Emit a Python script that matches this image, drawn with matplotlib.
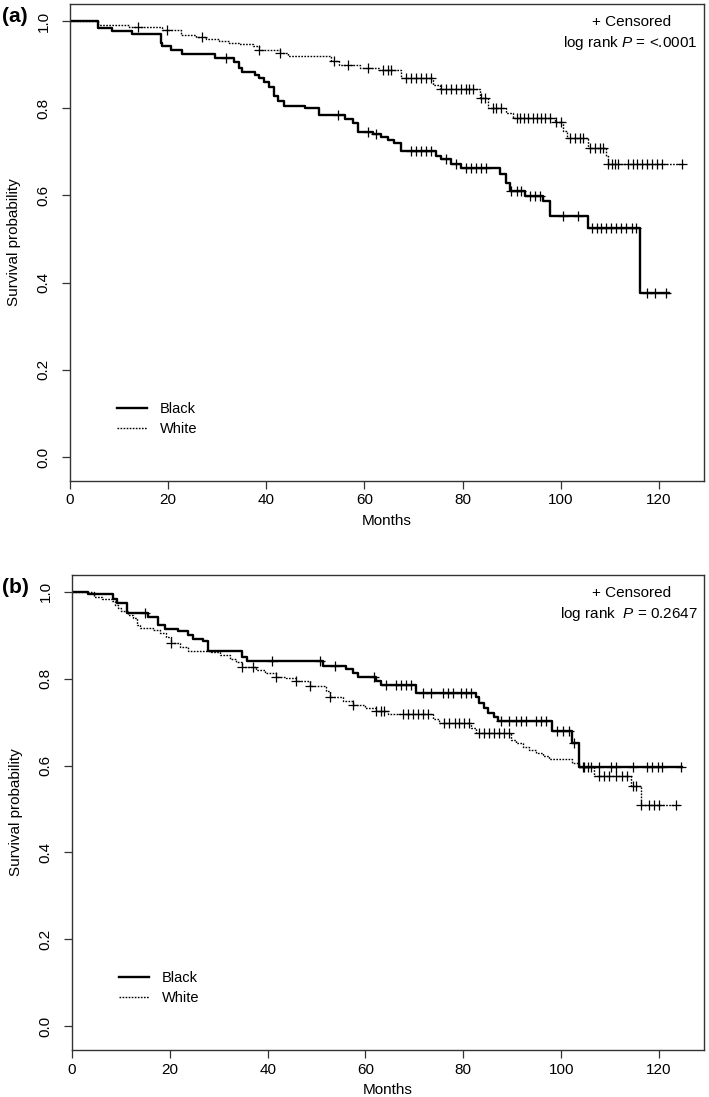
import numpy as np
import matplotlib
matplotlib.use("Agg")
import matplotlib.pyplot as plt

plt.rcParams['font.family'] = ['Liberation Sans', 'DejaVu Sans']
plt.rcParams['mathtext.fontset'] = 'custom'
plt.rcParams['mathtext.it'] = 'Liberation Sans:italic'
plt.rcParams['mathtext.rm'] = 'Liberation Sans'

# ---- panel (a) ----
a_black_t = [5.8, 8.6, 12.7, 18.5, 18.8, 20.5, 22.9, 29.6, 33.5, 34.5, 35.0, 37.6, 38.6,
             39.6, 40.6, 41.6, 42.3, 43.7, 47.8, 50.7, 56.1, 57.6, 58.6, 61.7, 63.4, 64.8,
             66.1, 67.5, 74.6, 75.6, 77.7, 79.7, 87.6, 88.9, 89.6, 92.7, 96.4, 97.8, 105.6, 116.1]
a_black_s = [0.985, 0.976, 0.971, 0.950, 0.943, 0.933, 0.925, 0.916, 0.907, 0.893, 0.883, 0.876, 0.869,
             0.861, 0.849, 0.828, 0.817, 0.805, 0.800, 0.784, 0.775, 0.767, 0.745, 0.740, 0.733, 0.727,
             0.720, 0.702, 0.690, 0.683, 0.671, 0.664, 0.648, 0.629, 0.610, 0.599, 0.587, 0.553, 0.526, 0.377]
a_black_cens = [31.8, 54.6, 60.7, 62.4, 69.5, 70.5, 71.6, 72.6, 73.6, 76.7, 78.7, 80.8, 81.8, 82.8,
                83.8, 84.8, 89.9, 91.0, 92.0, 93.7, 94.7, 95.7, 100.5, 103.5, 106.3, 107.3, 108.3,
                109.3, 110.3, 111.3, 112.3, 113.3, 114.6, 115.3, 117.6, 119.2, 121.4]
a_black_end = 122.1

a_white_t = [5.8, 12.0, 18.8, 22.6, 25.6, 27.7, 30.4, 32.4, 34.5, 37.2, 38.6, 42.7, 44.5, 53.2,
             54.9, 59.0, 63.0, 67.5, 74.0, 75.3, 83.5, 85.2, 88.9, 90.3, 98.8, 100.5, 101.2,
             105.6, 109.3, 109.7]
a_white_s = [0.991, 0.986, 0.979, 0.969, 0.963, 0.958, 0.954, 0.950, 0.947, 0.943, 0.933, 0.926, 0.920, 0.908,
             0.900, 0.893, 0.887, 0.869, 0.853, 0.843, 0.824, 0.801, 0.790, 0.778, 0.769, 0.748, 0.732,
             0.709, 0.690, 0.671]
a_white_cens = [13.9, 19.7, 26.8, 38.6, 42.7, 53.7, 56.6, 60.7, 63.8, 64.8, 65.5, 68.5, 69.5, 70.5,
                71.6, 72.6, 73.6, 75.6, 76.7, 77.7, 78.7, 79.7, 80.8, 81.4, 82.1, 83.8, 84.5, 86.2,
                86.9, 87.9, 91.0, 91.8, 92.6, 93.4, 94.3, 95.1, 95.9, 96.7, 97.8, 99.1, 100.1, 101.8,
                102.9, 103.9, 104.6, 105.9, 106.9, 108.0, 108.6, 109.7, 110.4, 111.0, 111.7, 113.7,
                114.8, 115.5, 116.5, 117.5, 118.6, 119.6, 120.6, 124.7]
a_white_end = 125.0

# ---- panel (b) ----
b_black_t = [3.3, 8.4, 9.1, 11.2, 15.5, 17.6, 19.0, 21.7, 23.7, 24.8, 26.8, 27.8, 34.8, 35.7,
             51.3, 56.1, 57.4, 58.4, 62.2, 63.2, 70.3, 82.6, 83.3, 84.3, 85.0, 86.3, 87.0, 98.2,
             102.3, 103.7]
b_black_s = [0.995, 0.983, 0.975, 0.951, 0.943, 0.924, 0.915, 0.909, 0.901, 0.892, 0.886, 0.865, 0.851, 0.841,
             0.830, 0.823, 0.813, 0.804, 0.795, 0.786, 0.767, 0.759, 0.744, 0.733, 0.721, 0.713, 0.702, 0.679,
             0.651, 0.597]
b_black_cens = [15.0, 40.8, 50.6, 53.7, 61.8, 64.2, 66.3, 67.3, 68.3, 69.3, 71.7, 73.4, 75.8, 76.8,
                77.8, 79.5, 80.5, 81.6, 87.7, 89.4, 90.7, 91.8, 92.8, 94.8, 95.9, 96.9, 99.2, 100.3,
                101.6, 102.6, 104.7, 106.1, 107.8, 110.1, 111.2, 114.6, 117.6, 118.6, 119.7, 120.7, 124.4]
b_black_end = 124.8

b_white_t = [4.4, 6.1, 8.1, 8.8, 9.5, 10.1, 11.5, 12.5, 13.2, 13.9, 16.6, 18.0, 19.3, 20.2, 22.0,
             23.7, 28.5, 30.2, 32.2, 33.6, 34.8, 37.7, 39.4, 41.8, 43.8, 45.8, 48.6, 52.0, 52.7,
             55.4, 57.4, 59.8, 62.2, 64.6, 73.7, 75.1, 81.6, 82.6, 89.7, 90.8, 92.1, 93.5, 94.8,
             96.2, 97.6, 102.3, 103.7, 106.7, 114.2, 116.3]
b_white_s = [0.989, 0.983, 0.978, 0.970, 0.962, 0.955, 0.947, 0.940, 0.924, 0.916, 0.913, 0.906, 0.897, 0.882,
             0.873, 0.865, 0.861, 0.854, 0.846, 0.838, 0.828, 0.821, 0.813, 0.805, 0.801, 0.794, 0.784,
             0.771, 0.759, 0.748, 0.740, 0.733, 0.725, 0.720, 0.707, 0.697, 0.687, 0.675, 0.660, 0.651,
             0.644, 0.637, 0.630, 0.622, 0.615, 0.606, 0.597, 0.575, 0.552, 0.510]
b_white_cens = [20.2, 34.8, 36.9, 41.8, 45.8, 48.6, 52.7, 57.4, 62.2, 63.2, 63.8, 67.6, 68.6, 69.7,
                70.7, 71.7, 72.7, 76.1, 77.1, 78.2, 79.2, 80.2, 81.2, 83.3, 84.3, 85.3, 86.3, 87.3,
                88.4, 89.4, 104.5, 105.5, 107.8, 108.8, 109.8, 111.2, 112.5, 113.5, 114.6, 115.2,
                116.3, 118.0, 119.0, 120.0, 123.4]
b_white_end = 124.1

groups = ['Black', 'White']

panels = [
    ("(a)", "log rank $\\it{P}$ = <.0001",
     (a_black_t, a_black_s, a_black_cens, a_black_end),
     (a_white_t, a_white_s, a_white_cens, a_white_end),
     [70 / 709, 1 - 481 / 1097, 634 / 709, 477 / 1097]),
    ("(b)", "log rank  $\\it{P}$ = 0.2647",
     (b_black_t, b_black_s, b_black_cens, b_black_end),
     (b_white_t, b_white_s, b_white_cens, b_white_end),
     [72 / 709, 1 - 1050 / 1097, 632 / 709, 475 / 1097]),
]


def km(ax, times, surv, cens, end, ls, lw):
    t = np.r_[0.0, times, end]
    s = np.r_[1.0, surv, surv[-1]]
    line, = ax.step(t, s, where='post', color='black', linestyle=ls, linewidth=lw)
    idx = np.searchsorted(times, cens, side='right')
    cy = np.r_[1.0, surv][idx]
    ax.plot(cens, cy, linestyle='none', marker='+', color='black',
            markersize=7, markeredgewidth=0.9)
    return line


fig = plt.figure(figsize=(7.09, 10.97), dpi=100)

for tag, ptext, black, white, rect in panels:
    ax = fig.add_axes(rect)
    h1 = km(ax, *black, ls='-', lw=1.7)
    h2 = km(ax, *white, ls=(0, (1.2, 1.0)), lw=1.0)

    ax.set_xlim(0, 129.2)
    ax.set_ylim(-0.055, 1.039)
    ax.set_xticks(range(0, 121, 20))
    ax.set_yticks([0.0, 0.2, 0.4, 0.6, 0.8, 1.0])
    ax.set_yticklabels(['0.0', '0.2', '0.4', '0.6', '0.8', '1.0'], rotation=90, va='center',
                       fontsize=11)
    ax.set_xticklabels([str(v) for v in range(0, 121, 20)], fontsize=11)
    ax.tick_params(direction='out', length=6, width=0.9, color='#333333')
    ax.tick_params(axis='y', pad=8)
    ax.tick_params(axis='x', pad=3)
    for sp in ax.spines.values():
        sp.set_linewidth(1.0)
        sp.set_color('#333333')

    ax.set_xlabel('Months', fontsize=11, labelpad=5)
    ax.set_ylabel('Survival probability', fontsize=11, labelpad=11)

    ax.legend([h1, h2], groups, loc='upper left', bbox_to_anchor=(0.065, 0.178),
              borderaxespad=0, frameon=False, handlelength=2.05, handletextpad=0.9,
              labelspacing=0.4, prop={'size': 10.5})

    ax.text(0.885, 0.962, '+ Censored', transform=ax.transAxes, ha='center', va='center',
            fontsize=11)
    ax.text(0.99, 0.918, ptext, transform=ax.transAxes, ha='right', va='center',
            fontsize=11)

    pos = ax.get_position()
    fig.text(0.003, pos.y1 - 0.011, tag, fontsize=15, fontweight='bold', ha='left', va='center')

fig.savefig('out.png', dpi=100)
